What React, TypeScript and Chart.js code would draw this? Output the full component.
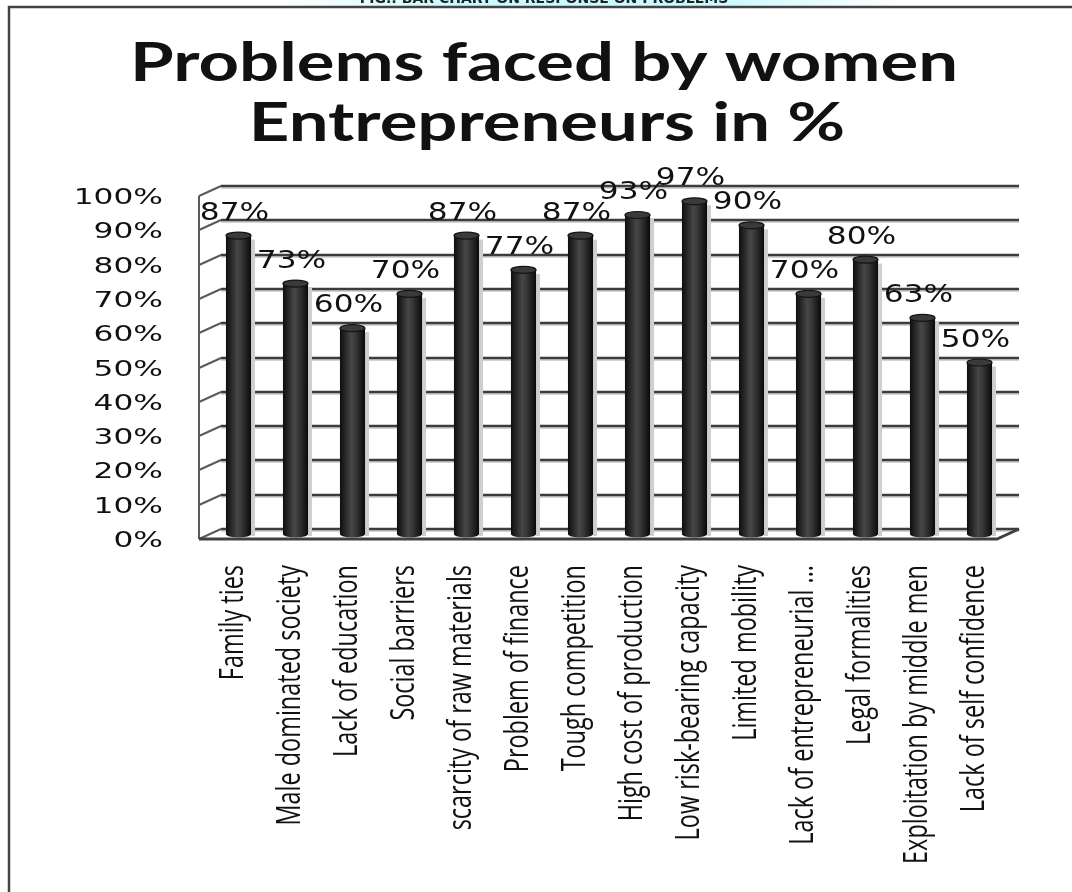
import React, { useEffect, useRef } from "react";
import { Chart, registerables } from "chart.js";

Chart.register(...registerables);

const categories = [
  "Family ties",
  "Male dominated society",
  "Lack of education",
  "Social barriers",
  "scarcity of raw materials",
  "Problem of finance",
  "Tough competition",
  "High cost of production",
  "Low risk-bearing capacity",
  "Limited mobility",
  "Lack of entrepreneurial ...",
  "Legal formalities",
  "Exploitation by middle men",
  "Lack of self confidence",
];
const values = [87, 73, 60, 70, 87, 77, 87, 93, 97, 90, 70, 80, 63, 50];
const valueLabels = ["87%", "73%", "60%", "70%", "87%", "77%", "87%", "93%", "97%", "90%", "70%", "80%", "63%", "50%"];
const yTicks = [0, 10, 20, 30, 40, 50, 60, 70, 80, 90, 100];
const yTickLabels = ["0%", "10%", "20%", "30%", "40%", "50%", "60%", "70%", "80%", "90%", "100%"];
const titleLines = ["Problems faced by women", "Entrepreneurs in %"];
const caption = "FIG.: BAR CHART ON RESPONSE ON PROBLEMS";

const DX = 11; // half depth, horizontal
const DY = 5; // half depth, vertical

function stretchText(
  ctx: CanvasRenderingContext2D,
  text: string,
  x: number,
  y: number,
  sx: number,
  sy: number,
  align: CanvasTextAlign,
  baseline: CanvasTextBaseline
) {
  ctx.save();
  ctx.translate(x, y);
  ctx.scale(sx, sy);
  ctx.textAlign = align;
  ctx.textBaseline = baseline;
  ctx.fillText(text, 0, 0);
  ctx.restore();
}

function cylGradient(ctx: CanvasRenderingContext2D, x0: number, x1: number) {
  const g = ctx.createLinearGradient(x0, 0, x1, 0);
  g.addColorStop(0, "#0e0e0e");
  g.addColorStop(0.2, "#262626");
  g.addColorStop(0.45, "#474747");
  g.addColorStop(0.6, "#3a3a3a");
  g.addColorStop(0.85, "#1c1c1c");
  g.addColorStop(1, "#0a0a0a");
  return g;
}

const wallsPlugin = {
  id: "walls",
  beforeDatasetsDraw(chart: any) {
    const ctx: CanvasRenderingContext2D = chart.ctx;
    const xs = chart.scales.x;
    const ys = chart.scales.y;
    const left = xs.left;
    const right = xs.right;
    ctx.save();
    yTicks.forEach((v) => {
      const yy = Math.round(ys.getPixelForValue(v) - DY);
      ctx.strokeStyle = "#d4d4d4";
      ctx.lineWidth = 2;
      ctx.beginPath();
      ctx.moveTo(left + DX, yy + 2);
      ctx.lineTo(right + DX, yy + 2);
      ctx.stroke();
      ctx.strokeStyle = "#3c3c3c";
      ctx.lineWidth = 2.4;
      ctx.beginPath();
      ctx.moveTo(left + DX, yy);
      ctx.lineTo(right + DX, yy);
      ctx.stroke();
      ctx.strokeStyle = "#5a5a5a";
      ctx.lineWidth = 2;
      ctx.beginPath();
      ctx.moveTo(left - DX, yy + 2 * DY);
      ctx.lineTo(left + DX, yy);
      ctx.stroke();
    });
    const y0 = ys.getPixelForValue(0);
    const y100 = ys.getPixelForValue(100);
    ctx.strokeStyle = "#5a5a5a";
    ctx.lineWidth = 2;
    ctx.beginPath();
    ctx.moveTo(left - DX, y0 + DY);
    ctx.lineTo(left - DX, y100 + DY);
    ctx.stroke();
    ctx.strokeStyle = "#404040";
    ctx.lineWidth = 3;
    ctx.beginPath();
    ctx.moveTo(left - DX, y0 + DY);
    ctx.lineTo(right - DX, y0 + DY);
    ctx.lineTo(right + DX, y0 - DY);
    ctx.stroke();
    const meta = chart.getDatasetMeta(0);
    ctx.fillStyle = "#cfcfcf";
    meta.data.forEach((el: any) => {
      const w = el.width;
      ctx.fillRect(el.x + w / 2, el.y + 4, 4, el.base - el.y - 2);
    });
    ctx.restore();
  },
  afterDatasetsDraw(chart: any) {
    const ctx: CanvasRenderingContext2D = chart.ctx;
    const meta = chart.getDatasetMeta(0);
    ctx.save();
    meta.data.forEach((el: any, i: number) => {
      const w = el.width;
      const rx = w / 2;
      const ry = 3.5;
      ctx.fillStyle = cylGradient(ctx, el.x - rx, el.x + rx);
      ctx.beginPath();
      ctx.ellipse(el.x, el.base, rx, ry, 0, 0, Math.PI);
      ctx.fill();
      ctx.fillStyle = "#3a3a3a";
      ctx.strokeStyle = "#141414";
      ctx.lineWidth = 1.2;
      ctx.beginPath();
      ctx.ellipse(el.x, el.y, rx, ry, 0, 0, Math.PI * 2);
      ctx.fill();
      ctx.stroke();
      ctx.fillStyle = "#111";
      ctx.font = "24px 'DejaVu Sans'";
      stretchText(ctx, valueLabels[i], el.x - 4, el.y - 16, 1.3, 1, "center", "alphabetic");
    });
    ctx.restore();
  },
  afterDraw(chart: any) {
    const ctx: CanvasRenderingContext2D = chart.ctx;
    const xs = chart.scales.x;
    const ys = chart.scales.y;
    ctx.save();
    ctx.fillStyle = "#111";
    ctx.font = "22px 'DejaVu Sans'";
    yTicks.forEach((v, i) => {
      const yy = ys.getPixelForValue(v) + DY;
      stretchText(ctx, yTickLabels[i], 163, yy + 8, 1.42, 1, "right", "alphabetic");
    });
    ctx.font = "23px 'Open Sans'";
    categories.forEach((c, i) => {
      const x = xs.getPixelForValue(i);
      ctx.save();
      ctx.translate(x + 4, 565);
      ctx.rotate(-Math.PI / 2);
      ctx.scale(1.02, 1.42);
      ctx.textAlign = "right";
      ctx.textBaseline = "alphabetic";
      ctx.fillText(c, 0, 0);
      ctx.restore();
    });
    ctx.font = "bold 53px Lato";
    const w1 = ctx.measureText(titleLines[0]).width;
    const sx = 828 / w1;
    stretchText(ctx, titleLines[0], 544, 81, sx, 1, "center", "alphabetic");
    stretchText(ctx, titleLines[1], 547, 141, sx, 1, "center", "alphabetic");
    const g = ctx.createLinearGradient(280, 0, 900, 0);
    g.addColorStop(0, "rgba(200,250,255,0)");
    g.addColorStop(0.3, "rgba(200,250,255,1)");
    g.addColorStop(0.7, "rgba(200,250,255,1)");
    g.addColorStop(1, "rgba(200,250,255,0)");
    ctx.fillStyle = g;
    ctx.fillRect(280, 0, 620, 6);
    ctx.fillStyle = "#222";
    ctx.font = "bold 14px 'DejaVu Sans'";
    stretchText(ctx, caption, 544, 3, 1.0, 1, "center", "alphabetic");
    ctx.strokeStyle = "#444";
    ctx.lineWidth = 2.5;
    ctx.beginPath();
    ctx.moveTo(1072, 7);
    ctx.lineTo(9, 7);
    ctx.lineTo(9, 892);
    ctx.stroke();
    ctx.restore();
  },
};

export default function App() {
  const ref = useRef<HTMLCanvasElement | null>(null);
  useEffect(() => {
    if (!ref.current) return;
    const chart = new Chart(ref.current, {
      type: "bar",
      data: {
        labels: categories,
        datasets: [
          {
            data: values,
            backgroundColor: (c: any) => {
              const ch = c.chart;
              if (!ch.chartArea || !ch.scales.x) return "#2b2b2b";
              const x = ch.scales.x.getPixelForValue(c.dataIndex);
              const w = (ch.scales.x.width / categories.length) * 0.44;
              return cylGradient(ch.ctx, x - w / 2, x + w / 2);
            },
            borderWidth: 0,
            barPercentage: 0.44,
            categoryPercentage: 1.0,
          },
        ],
      },
      options: {
        responsive: false,
        animation: false,
        layout: { padding: { left: 210, right: 64, top: 191, bottom: 358 } },
        plugins: {
          legend: { display: false },
          tooltip: { enabled: false },
          title: { display: false },
        },
        scales: {
          x: { display: false, offset: true, grid: { display: false } },
          y: { display: false, min: 0, max: 100 },
        },
      },
      plugins: [wallsPlugin],
    });
    return () => chart.destroy();
  }, []);
  return (
    <div style={{ position: "fixed", left: 0, top: 0, width: 1072, height: 892, background: "#fff" }}>
      <canvas ref={ref} width={1072} height={892} style={{ display: "block" }} />
    </div>
  );
}
